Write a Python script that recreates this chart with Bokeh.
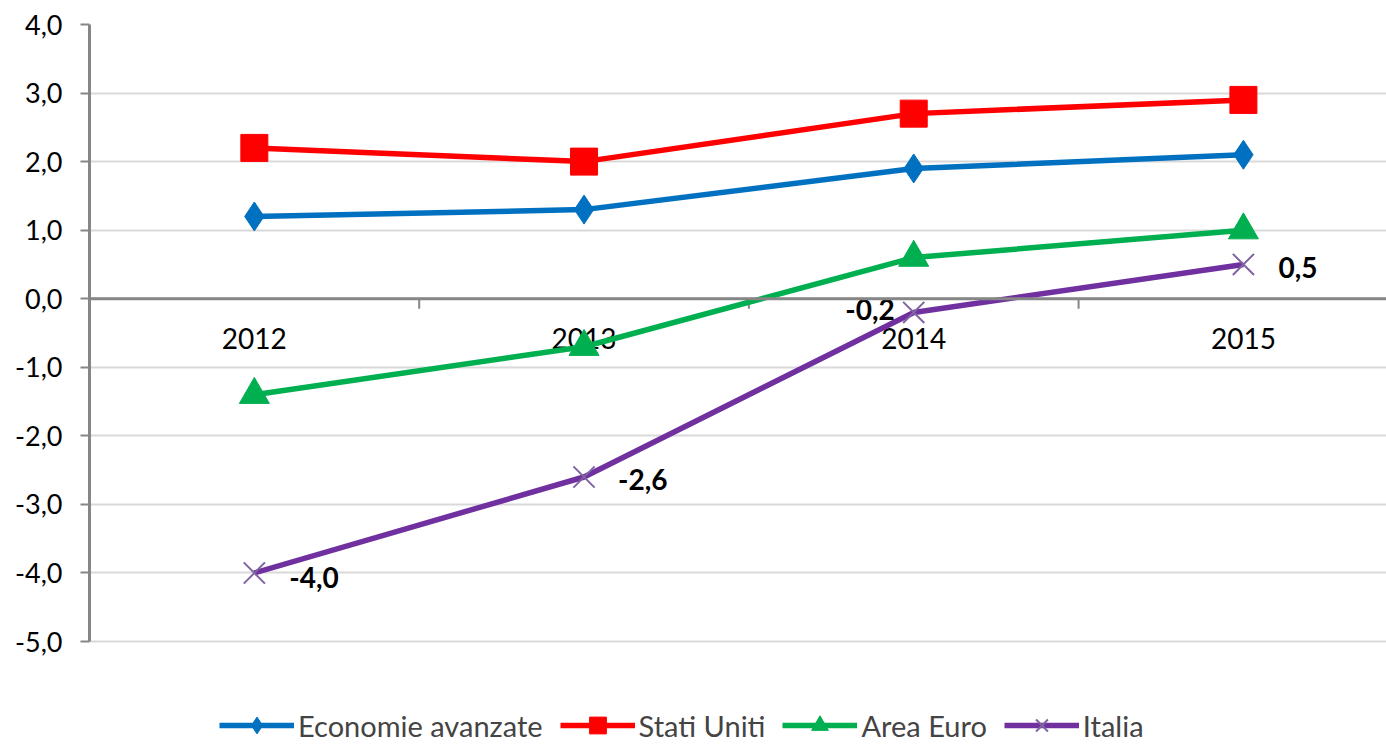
from bokeh.plotting import figure
from bokeh.models import (Range1d, FixedTicker, CustomJSTickFormatter, Span,
                          Legend, LegendItem, ColumnDataSource)
from bokeh.core.properties import value
from bokeh.embed import file_html
from bokeh.resources import INLINE

# ---- data ----
years = ["2012", "2013", "2014", "2015"]
economie_avanzate = [1.2, 1.3, 1.9, 2.1]
stati_uniti = [2.2, 2.0, 2.7, 2.9]
area_euro = [-1.4, -0.7, 0.6, 1.0]
italia = [-4.0, -2.6, -0.2, 0.5]
y_ticks = [-5, -4, -3, -2, -1, 0, 1, 2, 3, 4]

FONT = "Lato"
xs = [i + 0.5 for i in range(len(years))]

# frame spans the full height; lower part holds the legend
p = figure(width=1386, height=746, output_backend="svg", toolbar_location=None,
           x_range=Range1d(0, 3.934), y_range=Range1d(-6.531, 4),
           x_axis_location=None, min_border_left=89, min_border_right=0,
           min_border_top=24, min_border_bottom=0)
p.outline_line_color = None
p.xgrid.grid_line_color = None
p.ygrid.grid_line_color = "#d9d9d9"
p.ygrid.grid_line_width = 2
p.ygrid.ticker = FixedTicker(ticks=y_ticks)

ax = p.yaxis[0]
ax.ticker = FixedTicker(ticks=y_ticks)
ax.bounds = (min(y_ticks), max(y_ticks))
ax.formatter = CustomJSTickFormatter(code="return tick.toFixed(1).replace('.', ',');")
ax.axis_line_color = "#868686"
ax.axis_line_width = 3
ax.major_tick_line_color = "#868686"
ax.major_tick_line_width = 2
ax.major_tick_out = 9
ax.major_tick_in = 0
ax.minor_tick_line_color = None
ax.major_label_text_font = FONT
ax.major_label_text_font_size = "27px"
ax.major_label_text_color = "#000000"
ax.major_label_standoff = 18

# zero line
p.add_layout(Span(location=0, dimension="width", line_color="#868686", line_width=3))

# category tick marks on zero line (boundaries between categories)
bounds = [i for i in range(1, len(years))]
tick_len = 10 / (617 / 9.0)
p.segment(x0=bounds, y0=[0] * len(bounds), x1=bounds, y1=[-tick_len] * len(bounds),
          line_color="#868686", line_width=2)

# category labels
p.text(x=xs, y=[0] * len(xs), text=years, text_font=value(FONT), text_font_size="28px",
       text_align="center", text_baseline="middle", y_offset=40, text_color="#000000")

items = []
series = [
    ("Economie avanzate", economie_avanzate, "#0070C0", "diamond", 29, None),
    ("Stati Uniti", stati_uniti, "#FF0000", "square", 27, None),
    ("Area Euro", area_euro, "#00B050", "triangle", 30, None),
    ("Italia", italia, "#7030A0", "x", 30, "#8064A2"),
]
for name, vals, col, mk, sz, mcol in series:
    l = p.line(xs, vals, line_color=col, line_width=5.5)
    if mk == "x":
        s = p.scatter(xs, vals, marker=mk, size=sz, line_color=mcol, line_width=2)
    else:
        s = p.scatter(xs, vals, marker=mk, size=sz, fill_color=col, line_color=col)
    items.append(LegendItem(label=name, renderers=[l, s]))

# data labels for Italia
lab_text = [f"{v:.1f}".replace(".", ",") for v in italia]
lab_src = ColumnDataSource(dict(x=xs, y=italia, text=lab_text,
                                xo=[35, 34, -19, 35], yo=[5, 3, -3, 3],
                                al=["left", "left", "right", "left"]))
p.text(x="x", y="y", text="text", source=lab_src, x_offset="xo", y_offset="yo",
       text_align="al", text_baseline="middle", text_font=value(FONT),
       text_font_size="28px", text_font_style="bold", text_color="#000000")

legend = Legend(items=items, orientation="horizontal", location=(130, 0),
                glyph_width=75, glyph_height=42, label_text_font=FONT,
                label_text_font_size="29px", label_standoff=4, spacing=17,
                padding=0, margin=0, border_line_color=None,
                background_fill_alpha=0)
p.add_layout(legend, "center")

open("out.html", "w").write(file_html(p, INLINE))
